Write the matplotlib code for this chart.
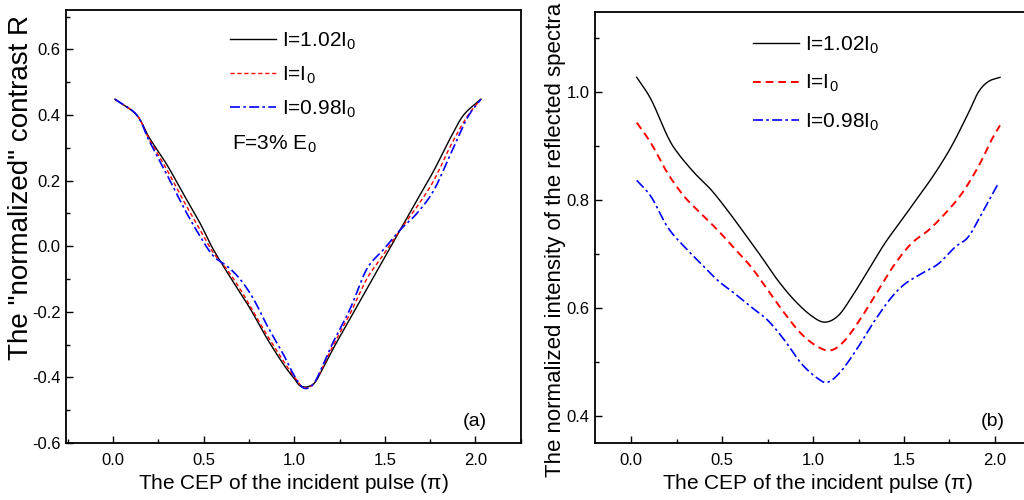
import numpy as np
import matplotlib
matplotlib.use("Agg")
import matplotlib.pyplot as plt
from matplotlib.ticker import MultipleLocator

plt.rcParams['font.family'] = ['Liberation Sans', 'DejaVu Sans']
plt.rcParams['mathtext.fontset'] = 'custom'
plt.rcParams['mathtext.rm'] = 'Liberation Sans'
plt.rcParams['axes.unicode_minus'] = False

# panel (a): normalized contrast R vs CEP (units of pi)
xa_black = [0.01, 0.13, 0.20, 0.295, 0.387, 0.48, 0.553, 0.664, 0.756, 0.848, 0.94, 0.995,
            1.04, 1.106, 1.16, 1.217, 1.309, 1.40, 1.493, 1.585, 1.677, 1.77, 1.862, 1.935, 2.03]
ya_black = [0.448, 0.40, 0.33, 0.25, 0.16, 0.07, -0.01, -0.11, -0.19, -0.28, -0.36, -0.40,
            -0.428, -0.42, -0.37, -0.31, -0.22, -0.13, -0.04, 0.05, 0.14, 0.23, 0.33, 0.40, 0.448]

xa_red = [0.01, 0.13, 0.20, 0.295, 0.387, 0.48, 0.553, 0.627, 0.70, 0.774, 0.848, 0.94, 0.995,
          1.05, 1.106, 1.16, 1.217, 1.309, 1.40, 1.493, 1.585, 1.677, 1.77, 1.862, 1.954, 2.03]
ya_red = [0.448, 0.40, 0.325, 0.235, 0.14, 0.05, -0.02, -0.07, -0.13, -0.20, -0.27, -0.35, -0.395,
          -0.43, -0.42, -0.365, -0.30, -0.205, -0.10, -0.025, 0.05, 0.12, 0.20, 0.305, 0.395, 0.448]

xa_blue = [0.01, 0.13, 0.20, 0.295, 0.387, 0.48, 0.553, 0.627, 0.70, 0.774, 0.848, 0.94, 0.995,
           1.05, 1.106, 1.16, 1.217, 1.309, 1.40, 1.493, 1.585, 1.677, 1.77, 1.862, 1.954, 2.03]
ya_blue = [0.448, 0.40, 0.32, 0.22, 0.12, 0.03, -0.03, -0.06, -0.10, -0.16, -0.24, -0.33, -0.39,
           -0.432, -0.42, -0.36, -0.29, -0.19, -0.07, -0.01, 0.05, 0.10, 0.17, 0.28, 0.39, 0.448]

# panel (b): normalized intensity of the reflected spectra
xb_black = [0.03, 0.11, 0.20, 0.257, 0.349, 0.44, 0.532, 0.624, 0.716, 0.807, 0.899, 0.99, 1.064,
            1.138, 1.211, 1.303, 1.394, 1.486, 1.578, 1.67, 1.761, 1.853, 1.908, 1.963, 2.028]
yb_black = [1.028, 0.986, 0.918, 0.887, 0.85, 0.819, 0.78, 0.738, 0.695, 0.651, 0.614, 0.586, 0.574,
            0.586, 0.62, 0.67, 0.72, 0.763, 0.806, 0.85, 0.90, 0.961, 1.0, 1.02, 1.028]

xb_red = [0.03, 0.11, 0.20, 0.294, 0.385, 0.477, 0.569, 0.66, 0.752, 0.844, 0.936, 1.028, 1.10,
          1.174, 1.266, 1.358, 1.45, 1.541, 1.633, 1.725, 1.817, 1.908, 1.98, 2.028]
yb_red = [0.944, 0.905, 0.85, 0.806, 0.775, 0.744, 0.71, 0.676, 0.633, 0.59, 0.552, 0.528, 0.522,
          0.54, 0.583, 0.633, 0.682, 0.72, 0.744, 0.775, 0.812, 0.862, 0.911, 0.939]

xb_blue = [0.03, 0.11, 0.20, 0.294, 0.385, 0.477, 0.569, 0.66, 0.752, 0.844, 0.936, 1.028, 1.083,
           1.156, 1.248, 1.339, 1.431, 1.505, 1.596, 1.688, 1.78, 1.853, 1.927, 2.018]
yb_blue = [0.837, 0.806, 0.75, 0.713, 0.682, 0.651, 0.627, 0.602, 0.577, 0.54, 0.497, 0.469, 0.463,
           0.484, 0.528, 0.577, 0.62, 0.645, 0.664, 0.682, 0.713, 0.732, 0.775, 0.831]

labels = [r'I=1.02I$_\mathregular{0}$', r'I=I$_\mathregular{0}$', r'I=0.98I$_\mathregular{0}$']


def smooth(x, y):
    # piecewise cubic (Catmull-Rom) through the read points
    x = np.asarray(x, float)
    y = np.asarray(y, float)
    px = np.concatenate([[2 * x[0] - x[1]], x, [2 * x[-1] - x[-2]]])
    py = np.concatenate([[2 * y[0] - y[1]], y, [2 * y[-1] - y[-2]]])
    xs, ys = [], []
    for i in range(1, len(px) - 2):
        t = np.linspace(0, 1, 12, endpoint=False)
        for arr, out in ((px, xs), (py, ys)):
            p0, p1, p2, p3 = arr[i - 1], arr[i], arr[i + 1], arr[i + 2]
            out.extend(0.5 * (2 * p1 + (-p0 + p2) * t + (2 * p0 - 5 * p1 + 4 * p2 - p3) * t ** 2
                              + (-p0 + 3 * p1 - 3 * p2 + p3) * t ** 3))
    xs.append(x[-1])
    ys.append(y[-1])
    return np.array(xs), np.array(ys)


def style(ax):
    ax.tick_params(direction='in', length=5, width=1, labelsize=12)
    ax.tick_params(axis='y', pad=4)
    ax.tick_params(axis='x', pad=7)
    ax.tick_params(which='minor', direction='in', length=3, width=1)
    ax.xaxis.set_major_locator(MultipleLocator(0.5))
    ax.xaxis.set_minor_locator(MultipleLocator(0.25))
    for s in ax.spines.values():
        s.set_linewidth(1.3)
    ax.set_xlabel(r'The CEP of the incident pulse ($\mathregular{\pi}$)', fontsize=15, labelpad=3)


fig = plt.figure(figsize=(10.24, 5), dpi=100)

ax1 = fig.add_axes([0.0645, 0.114, 0.444, 0.866])
ax1.plot(*smooth(xa_black, ya_black), color='black', lw=1.0, label=labels[0])
ax1.plot(*smooth(xa_red, ya_red), color='red', lw=1.0, ls=(0, (3, 2)), label=labels[1])
ax1.plot(*smooth(xa_blue, ya_blue), color='blue', lw=1.2, ls=(0, (6, 2, 1.5, 2)), label=labels[2])
ax1.set_xlim(-0.26, 2.25)
ax1.set_ylim(-0.6, 0.72)
ax1.yaxis.set_minor_locator(MultipleLocator(0.1))
ax1.set_yticks([-0.6, -0.4, -0.2, 0.0, 0.2, 0.4, 0.6])
style(ax1)
ax1.set_ylabel('The "normalized" contrast R', fontsize=20)
ax1.yaxis.set_label_coords(-0.071, 0.59)
ax1.legend(loc='upper left', bbox_to_anchor=(0.319, 0.997), frameon=False, fontsize=15,
           handlelength=2.2, handletextpad=0.3, labelspacing=0.6)
ax1.text(0.366, 0.715, r'F=3% E$_\mathregular{0}$', transform=ax1.transAxes, fontsize=15, va='top')
ax1.text(0.925, 0.03, '(a)', transform=ax1.transAxes, fontsize=14, ha='right', va='bottom')

ax2 = fig.add_axes([0.581, 0.114, 0.435, 0.863])
ax2.plot(*smooth(xb_black, yb_black), color='black', lw=1.0, label=labels[0])
ax2.plot(*smooth(xb_red, yb_red), color='red', lw=1.4, ls=(0, (4, 2.5)), label=labels[1])
ax2.plot(*smooth(xb_blue, yb_blue), color='blue', lw=1.2, ls=(0, (6, 2, 1.5, 2)), label=labels[2])
ax2.set_xlim(-0.2, 2.25)
ax2.set_ylim(0.35, 1.15)
ax2.yaxis.set_minor_locator(MultipleLocator(0.1))
ax2.set_yticks([0.4, 0.6, 0.8, 1.0])
style(ax2)
ax2.set_ylabel('The normalized intensity of the reflected spectra', fontsize=16)
ax2.yaxis.set_label_coords(-0.066, 0.47)
ax2.legend(loc='upper left', bbox_to_anchor=(0.312, 0.99), frameon=False, fontsize=15,
           handlelength=2.2, handletextpad=0.3, labelspacing=0.8)
ax2.text(0.921, 0.03, '(b)', transform=ax2.transAxes, fontsize=14, ha='right', va='bottom')

fig.savefig('out.png', dpi=100)
